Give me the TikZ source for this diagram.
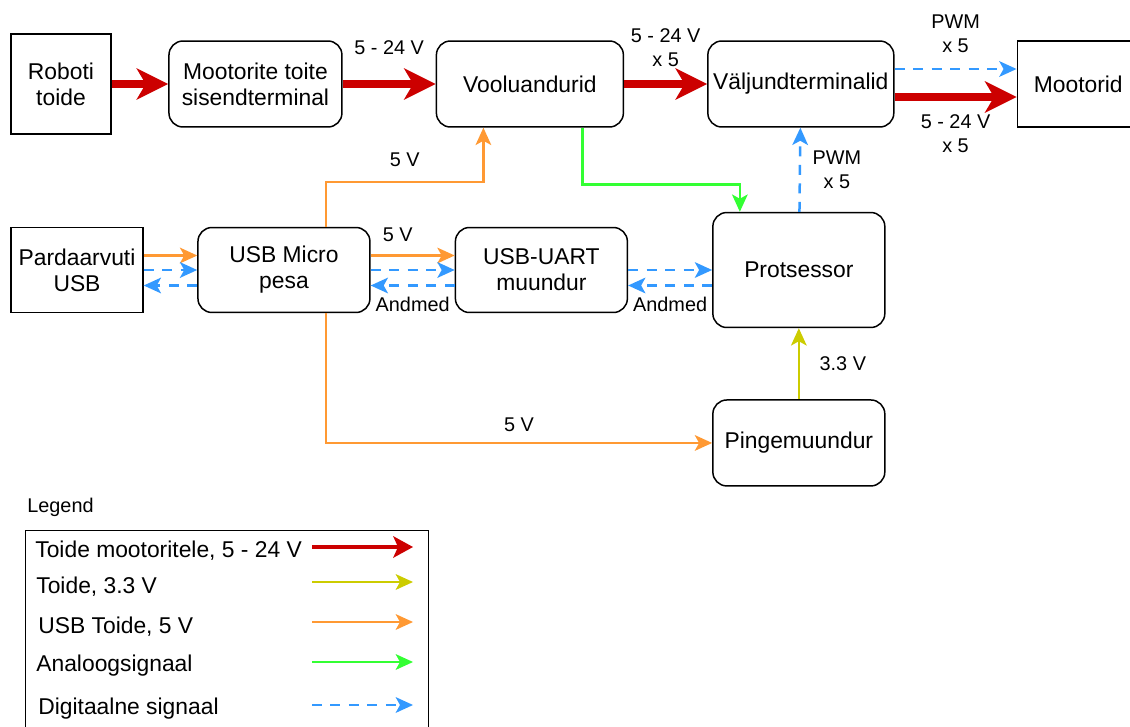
\documentclass[tikz,border=0pt]{standalone}
\usepackage{fontspec}
\setmainfont{Liberation Sans}
\usetikzlibrary{positioning,arrows.meta}

\definecolor{powerred}{HTML}{CC0000}
\definecolor{usborange}{HTML}{FF9933}
\definecolor{analoggreen}{HTML}{33FF33}
\definecolor{supplyyellow}{HTML}{CCCC00}
\definecolor{signalblue}{HTML}{3399FF}

\newcommand\boxfont{\fontsize{13}{14.7}\selectfont}
\newcommand\lblfont{\fontsize{11.3}{13.6}\selectfont}

\tikzset{
	block/.style={draw, line width=0.85pt, rounded corners=0.28cm, align=center,
		font=\boxfont, minimum height=1.72cm, inner sep=1pt},
	plainblock/.style={block, sharp corners},
	lbl/.style={font=\lblfont, align=center, inner sep=1pt},
	legendtext/.style={font=\boxfont, anchor=west, inner sep=0pt},
	thintip/.style={-{Stealth[length=0.35cm, width=0.32cm, inset=0.09cm, line width=0pt]}},
	motorpower/.style={draw=powerred, line width=0.15cm,
		-{Stealth[length=0.64cm, width=0.64cm, inset=0.19cm, line width=0pt]}},
	usbpower/.style={draw=usborange, line width=0.05cm, thintip},
	supply/.style={draw=supplyyellow, line width=0.05cm, thintip},
	analog/.style={draw=analoggreen, line width=0.05cm, thintip},
	digital/.style={draw=signalblue, line width=0.05cm, dash pattern=on 0.2cm off 0.17cm, thintip},
}

\begin{document}
\begin{tikzpicture}[x=0.02cm, y=-0.02cm]
	\useasboundingbox (0,0) rectangle (1130,727);

	% power path
	\node [plainblock, minimum width=2cm, minimum height=2cm] (robot) at (61,84) {Roboti\\toide};

	\node [block, minimum width=3.46cm, right=1.13cm of robot] (inlet) {Mootorite toite\\sisendterminal};

	\node [block, minimum width=3.74cm, right=1.86cm of inlet] (sensors) {Vooluandurid};

	\node [block, minimum width=3.72cm, right=1.66cm of sensors] (outlets) {Väljundterminalid};

	\node [plainblock, minimum width=2.44cm, right=2.44cm of outlets] (motors) {Mootorid};

	% usb side
	\node [plainblock, minimum width=2.64cm, minimum height=1.7cm] (laptop) at (77,270) {Pardaarvuti\\USB};

	\node [block, minimum width=3.44cm, minimum height=1.7cm, right=1.07cm of laptop] (usb) {USB Micro\\pesa};

	\node [block, minimum width=3.44cm, minimum height=1.7cm, right=1.68cm of usb] (uart) {USB-UART\\muundur};

	\node [block, minimum width=3.44cm, minimum height=2.3cm, right=1.68cm of uart] (cpu) {Protsessor};

	\node [block, minimum width=3.44cm, below=1.42cm of cpu] (regulator) {Pingemuundur};

	\draw[motorpower] (robot) -- (inlet);

	\draw[motorpower] (inlet) -- node[lbl, yshift=0.72cm] (vin) {5 - 24 V} (sensors);

	\draw[motorpower] (sensors) -- node[lbl, yshift=0.72cm] (vsense) {5 - 24 V\\x 5} (outlets);

	\draw[digital] ([yshift=0.3cm]outlets.east) --
	node[lbl, yshift=0.7cm] (pwmout) {PWM\\x 5} ([yshift=0.3cm]motors.west);

	\draw[motorpower] ([yshift=-0.26cm]outlets.east) --
	node[lbl, yshift=-0.74cm] (vout) {5 - 24 V\\x 5} ([yshift=-0.26cm]motors.west);

	\draw[digital] (cpu) -- node[lbl, xshift=0.74cm] (pwmcpu) {PWM\\x 5} (outlets);

	\draw[usbpower] ([xshift=0.84cm]usb.north) -- ++(0,-45)
	-| node[pos=0.25, lbl, yshift=0.44cm] (vsensors) {5 V} ([xshift=-0.93cm]sensors.south);

	\draw[analog] ([xshift=1.05cm]sensors.south) -- ++(0,57) -| ([xshift=-1.18cm]cpu.north);

	\draw[usbpower] ([yshift=0.29cm]laptop.east) -- ([yshift=0.29cm]usb.west);
	\draw[digital] (laptop) -- (usb);
	\draw[digital] ([yshift=-0.31cm]usb.west) -- ([yshift=-0.31cm]laptop.east);

	\draw[usbpower] ([yshift=0.29cm]usb.east) --
	node[lbl, xshift=-0.3cm, yshift=0.42cm] (vuart) {5 V} ([yshift=0.29cm]uart.west);
	\draw[digital] (usb) -- (uart);
	\draw[digital] ([yshift=-0.31cm]uart.west) --
	node[lbl, yshift=-0.38cm] (datausb) {Andmed} ([yshift=-0.31cm]usb.east);

	\draw[digital] (uart) -- (cpu);
	\draw[digital] ([yshift=-0.31cm]cpu.west) --
	node[lbl, yshift=-0.38cm] (datauart) {Andmed} ([yshift=-0.31cm]uart.east);

	\draw[supply] (regulator) -- node[lbl, xshift=0.88cm] (vcpu) {3.3 V} (cpu);

	\draw[usbpower] ([xshift=0.84cm]usb.south) |-
	node[pos=0.75, lbl, yshift=0.36cm] (vreg) {5 V} (regulator);

	% legend
	\node[lbl, anchor=west, inner sep=0pt] (legendtitle) at (27,507) {Legend};
	\node[draw, line width=0.85pt, anchor=north west, minimum width=8.06cm,
		minimum height=4.4cm] (legendbox) at (25,530) {};

	\node[legendtext] (keyred) at (35,551) {Toide mootoritele, 5 - 24 V};
	\coordinate (keyreda) at (312,547);
	\coordinate (keyredb) at (413,547);
	\draw[draw=powerred, line width=0.085cm,
		-{Stealth[length=0.4cm, width=0.44cm, inset=0.1cm, line width=0pt]}] (keyreda) -- (keyredb);

	\node[legendtext] (keyyellow) at (36,587) {Toide, 3.3 V};
	\coordinate (keyyellowa) at (312,582);
	\coordinate (keyyellowb) at (413,582);
	\draw[supply] (keyyellowa) -- (keyyellowb);

	\node[legendtext] (keyorange) at (38,627) {USB Toide, 5 V};
	\coordinate (keyorangea) at (312,622);
	\coordinate (keyorangeb) at (413,622);
	\draw[usbpower] (keyorangea) -- (keyorangeb);

	\node[legendtext] (keygreen) at (36,666) {Analoogsignaal};
	\coordinate (keygreena) at (312,662);
	\coordinate (keygreenb) at (413,662);
	\draw[analog] (keygreena) -- (keygreenb);

	\node[legendtext] (keyblue) at (38,709) {Digitaalne signaal};
	\coordinate (keybluea) at (312,705);
	\coordinate (keyblueb) at (413,705);
	\draw[digital] (keybluea) -- (keyblueb);

\end{tikzpicture}
\end{document}
